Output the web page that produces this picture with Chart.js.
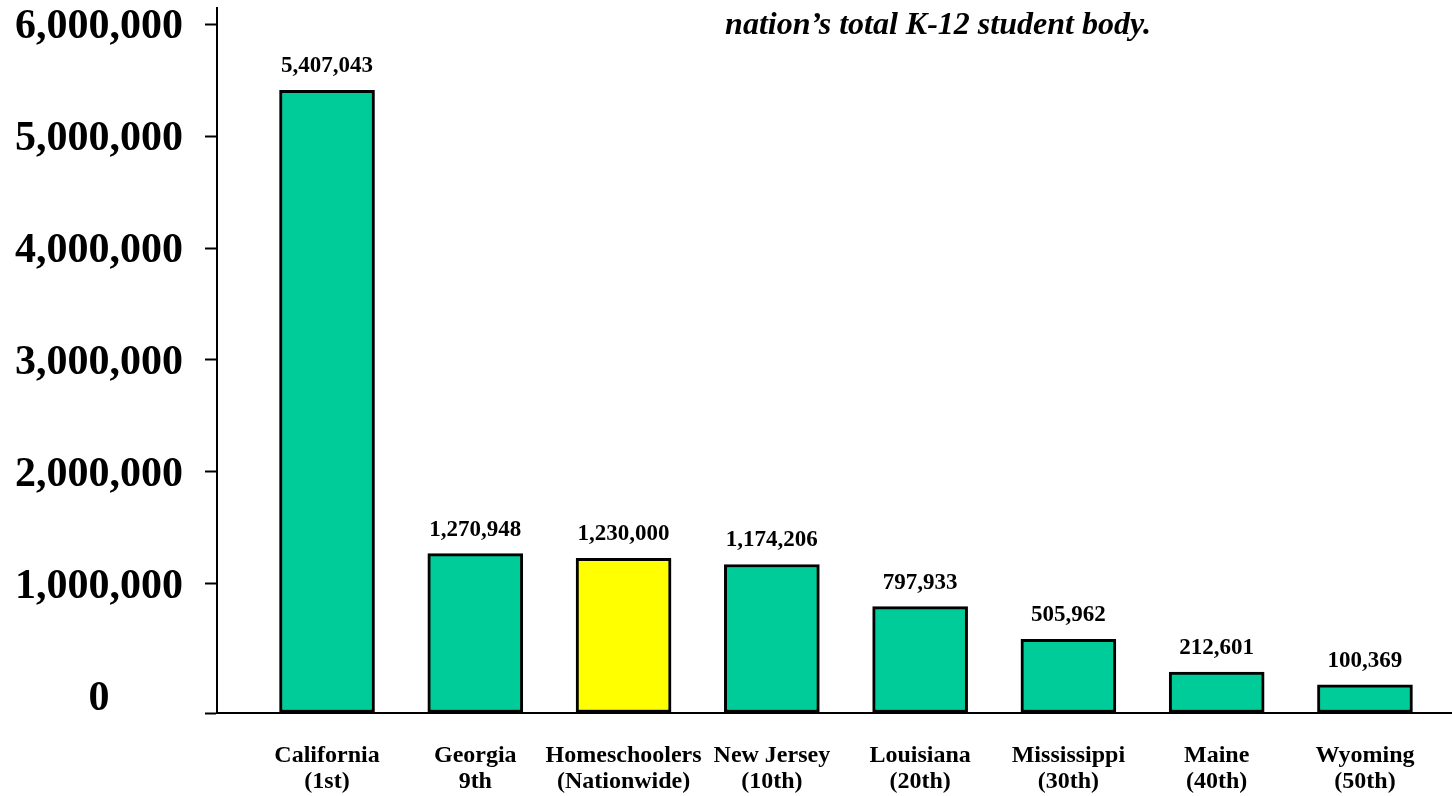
<!DOCTYPE html>
<html>
<head>
<meta charset="utf-8">
<script src="https://cdn.jsdelivr.net/npm/chart.js@4.4.1/dist/chart.umd.min.js"></script>
<style>
  body { margin: 0; background: #fff; }
  #wrap { position: relative; width: 1452px; height: 796px; }
  #note {
    position: absolute; left: 638px; top: 5px; width: 600px;
    text-align: center;
    font: italic bold 32px "Liberation Serif", "Times New Roman", serif;
    color: #000; white-space: nowrap;
  }
</style>
</head>
<body>
<div id="wrap">
  <canvas id="chart" width="1452" height="796"></canvas>
  <div id="note">nation’s total K-12 student body.</div>
</div>
<script>
//Categories, two lines each
const categories = [
  ["California", "(1st)"],
  ["Georgia", "9th"],
  ["Homeschoolers", "(Nationwide)"],
  ["New Jersey", "(10th)"],
  ["Louisiana", "(20th)"],
  ["Mississippi", "(30th)"],
  ["Maine", "(40th)"],
  ["Wyoming", "(50th)"]
];
//K-12 enrollment
const enrollment = [5407043, 1270948, 1230000, 1174206, 797933, 505962, 212601, 100369];
//Bar colors, homeschoolers highlighted
const barColors = ["#00CC99", "#00CC99", "#FFFF00", "#00CC99", "#00CC99", "#00CC99", "#00CC99", "#00CC99"];
//y tick values
const yTicks = [0, 1000000, 2000000, 3000000, 4000000, 5000000, 6000000];

const yMin = -152000;
const yMax = 6143000;
const serif = '"Liberation Serif", "Times New Roman", serif';

//Plugin that writes the value above each bar
const valueLabels = {
  id: "valueLabels",
  afterDatasetsDraw(chart) {
    const ctx = chart.ctx;
    const meta = chart.getDatasetMeta(0);
    ctx.save();
    ctx.font = "bold 23px " + serif;
    ctx.fillStyle = "#000";
    ctx.textAlign = "center";
    ctx.textBaseline = "middle";
    meta.data.forEach((bar, i) => {
      ctx.fillText(enrollment[i].toLocaleString("en-US"), bar.x, bar.y - 24);
    });
    ctx.restore();
  }
};

new Chart(document.getElementById("chart"), {
  type: "bar",
  plugins: [valueLabels],
  data: {
    datasets: [
      {
        data: enrollment.map((v, i) => ({ x: i, y: v })),
        backgroundColor: barColors,
        borderColor: "#000",
        borderWidth: 3,
        borderSkipped: false,
        barThickness: 95,
        base: yMin
      }
    ]
  },
  options: {
    responsive: false,
    animation: false,
    layout: { padding: { left: 13, top: 8, right: 0, bottom: 0 } },
    plugins: {
      legend: { display: false },
      tooltip: { enabled: false },
      title: { display: false }
    },
    scales: {
      x: {
        type: "linear",
        offset: false,
        min: -0.742,
        max: 7.587,
        afterBuildTicks: (scale) => {
          scale.ticks = categories.map((_, i) => ({ value: i }));
        },
        afterFit: (scale) => {
          scale.height = 83;
          scale.paddingLeft = 0;
          scale.paddingRight = 0;
        },
        grid: { drawOnChartArea: false, drawTicks: false },
        border: { color: "#000", width: 2 },
        ticks: {
          autoSkip: false,
          maxRotation: 0,
          padding: 30,
          color: "#000",
          font: { family: serif, size: 24, weight: "bold", lineHeight: 1.08 },
          callback: (value) => categories[value]
        }
      },
      y: {
        min: yMin,
        max: yMax,
        afterBuildTicks: (scale) => {
          scale.ticks = [yMin].concat(yTicks).map((v) => ({ value: v }));
        },
        afterFit: (scale) => {
          scale.width = 204;
          scale.paddingTop = 0;
          scale.paddingBottom = 0;
        },
        grid: {
          drawOnChartArea: false,
          tickLength: 12,
          tickWidth: 2,
          tickColor: (ctx) => (ctx.tick && ctx.tick.value === 0 ? "rgba(0,0,0,0)" : "#000")
        },
        border: { color: "#000", width: 2 },
        ticks: {
          autoSkip: false,
          crossAlign: "center",
          padding: 22,
          labelOffset: 3,
          color: "#000",
          font: { family: serif, size: 42, weight: "bold" },
          callback: (value) => (value < 0 ? "" : value.toLocaleString("en-US"))
        }
      }
    }
  }
});
</script>
</body>
</html>
